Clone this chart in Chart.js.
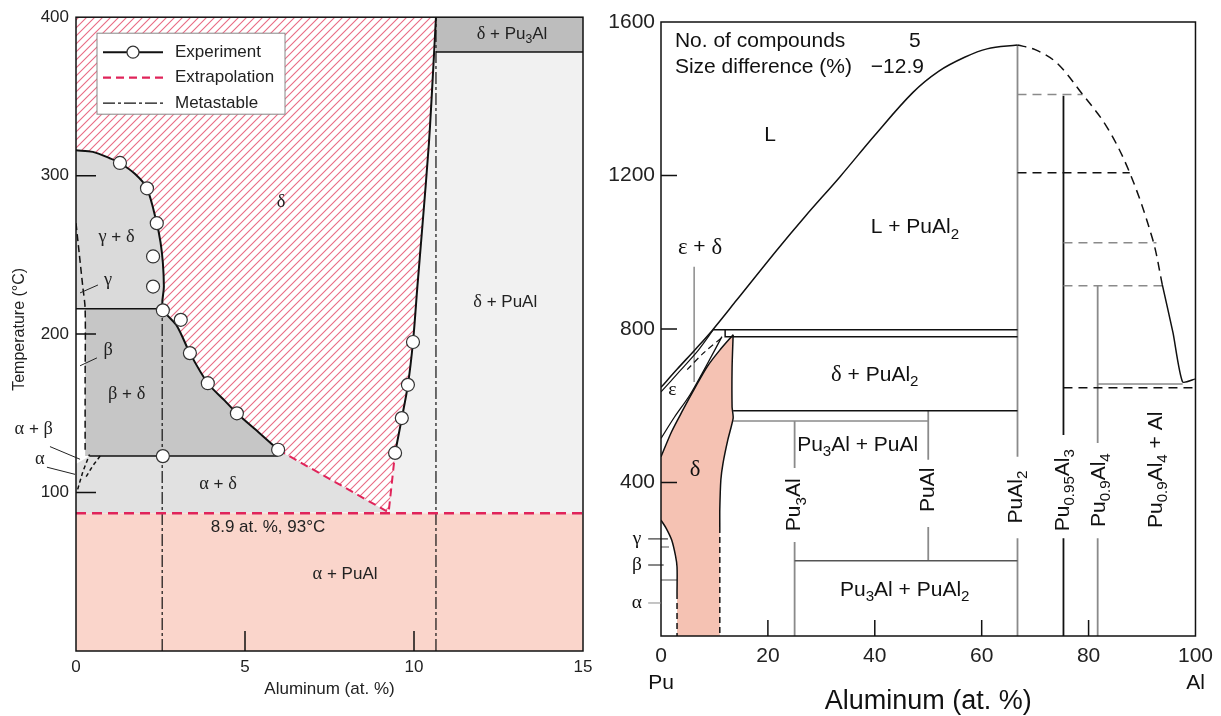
<!DOCTYPE html>
<html>
<head>
<meta charset="utf-8">
<script src="https://cdn.jsdelivr.net/npm/chart.js@4.4.1/dist/chart.umd.min.js"></script>
<style>
  html, body { margin: 0; padding: 0; background: #fff; }
  #wrap { position: relative; width: 1221px; height: 716px; overflow: hidden; }
  #lowAl { position: absolute; left: 0; top: 0; }
  #fullRange { position: absolute; left: 600px; top: 0; }
</style>
</head>
<body>
<div id="wrap">
  <canvas id="lowAl" width="600" height="716"></canvas>
  <canvas id="fullRange" width="621" height="716"></canvas>
</div>
<script>
const FONT = '"Liberation Sans", Arial, sans-serif';
const GREEK_FONT = '"Liberation Serif", "Times New Roman", serif';

// ---------- left panel: Pu-rich corner, 0-15 at.% Al ----------
const lowXTicks = [0, 5, 10, 15];
const lowYTicks = [100, 200, 300, 400];
const lowXMarks = [5, 10];
const lowYMarks = [100, 200, 300];

// open circles
const lowExperiment = [[1.3, 308], [2.1, 292], [2.39, 270], [2.28, 249], [2.28, 230], [2.57, 215],
  [3.1, 209], [3.37, 188], [3.9, 169], [4.76, 150], [5.98, 127], [2.57, 123],
  [9.97, 195], [9.82, 168], [9.64, 147], [9.44, 125]];

// delta boundaries
const gammaDeltaEdge = [[0, 316], [0.5, 315], [1.0, 311], [1.3, 308], [1.75, 301], [2.1, 292], [2.39, 270],
  [2.5, 258], [2.57, 245], [2.6, 230], [2.57, 216]];
const betaDeltaEdge = [[2.57, 216], [2.99, 205], [3.37, 188], [3.9, 169], [4.4, 158], [4.76, 150], [5.4, 138], [5.98, 127]];
const deltaSolvus = [[9.44, 125], [9.64, 147], [9.82, 168], [9.97, 195], [10.1, 230], [10.24, 266], [10.44, 320],
  [10.55, 360], [10.65, 400]];
const extrapV = [[5.98, 127], [9.25, 87.5], [9.44, 125]];
const gammaBetaDash = [[0, 270], [0.1, 250], [0.2, 230], [0.27, 216], [0.27, 170], [0.27, 125]];
const alphaDash1 = [[0.05, 102], [0.2, 113], [0.4, 124]];
const alphaDash2 = [[0.3, 110], [0.5, 117], [0.75, 124]];

const betaIso = 216;      // gamma/beta line
const alphaIso = 123;     // beta/alpha line
const eutectoidT = 87;    // extrapolated, 8.9 at.% / 93 C
const pu3alIso = 378;
const metastableX = [2.55, 10.65];

// ---------- right panel: whole Pu-Al system ----------
const fullXTicks = [0, 20, 40, 60, 80, 100];
const fullYTicks = [400, 800, 1200, 1600];
const fullXMarks = [20, 40, 60, 80];
const fullYMarks = [400, 800, 1200];

const liquidusPu = [[0, 648], [3, 695], [6.5, 748], [9.5, 795], [14.2, 876], [21.7, 1006], [27, 1094], [33.5, 1197],
  [40, 1305], [47.1, 1416], [52, 1472], [56.8, 1508], [61, 1530], [66.7, 1540]];
const liquidusAlDash = [[66.7, 1540], [70, 1528], [74, 1494], [78.9, 1411], [83.4, 1327], [87.7, 1207], [92, 1033], [93.8, 915]];
const liquidusAl = [[93.8, 915], [95.8, 790], [97.6, 662], [100, 670]];
const epsSolidus = [[0, 636], [3.5, 690], [7, 745], [9.8, 798]];
const epsDash = [[4.9, 694], [8, 738], [11.6, 780]];
const epsDeltaEdge = [[0, 515], [2.5, 570], [5.4, 628], [8.5, 705], [11.4, 780]];
const deltaUpper = [[0, 467], [2, 533], [4.1, 589], [6.3, 645], [8.6, 701], [11, 745], [13.5, 785]];
const deltaRight = [[13.5, 785], [13.3, 700], [13.3, 597], [13.5, 568], [12.5, 511], [11.6, 450], [11.2, 407], [11.0, 330], [11.0, 284]];
const deltaLower = [[0, 302], [1.0, 280], [2.0, 250], [2.7, 210], [3.0, 180], [3.0, 112]];

const compoundX = [25, 50, 66.7, 75.3, 81.7];
const compoundTop = [560, 587, 1540, 1408, 913];
const gapTop = [438, 459, 467, 524, 503];
const gapBottom = [245, 284, 255, 255, 255];
const compoundBottom = [0, 196, 0, 0, 0];
const compoundDark = [false, false, false, true, false];

const pt = a => a.map(([x, y]) => ({ x, y }));
const seg = (x0, y0, x1, y1) => [{ x: x0, y: y0 }, { x: x1, y: y1 }];

function hatchPattern() {
  const c = document.createElement('canvas');
  c.width = 8; c.height = 8;
  const g = c.getContext('2d');
  g.fillStyle = '#fff';
  g.fillRect(0, 0, 8, 8);
  g.strokeStyle = 'rgba(228,80,110,0.85)';
  g.lineWidth = 1.1;
  g.beginPath();
  g.moveTo(-2, 10); g.lineTo(10, -2);
  g.moveTo(-2, 2); g.lineTo(2, -2);
  g.moveTo(6, 10); g.lineTo(10, 6);
  g.stroke();
  return g.createPattern(c, 'repeat');
}

function area(data, color, order) {
  return { data, showLine: true, fill: 'shape', backgroundColor: color, borderWidth: 0, pointRadius: 0, tension: 0, order };
}
function line(data, opt) {
  return Object.assign({ data, showLine: true, fill: false, borderColor: '#111', borderWidth: 1.5, pointRadius: 0, tension: 0, order: 5 }, opt || {});
}

// rich text: "_3" makes a subscript, greek letters get a serif face
function parts(s) {
  const out = []; let last = 0; const re = /_([0-9.]+)/g; let m;
  const push = (t, sub) => {
    t.split(/([\u0370-\u03FF]+)/).forEach(r => { if (r) out.push([r, sub, /[\u0370-\u03FF]/.test(r)]); });
  };
  while ((m = re.exec(s))) {
    if (m.index > last) push(s.slice(last, m.index), false);
    out.push([m[1], true, false]);
    last = re.lastIndex;
  }
  if (last < s.length) push(s.slice(last), false);
  return out;
}
function fontOf(size, sub, greek) {
  return greek ? (size * 1.08) + 'px ' + GREEK_FONT : (sub ? size * 0.72 : size) + 'px ' + FONT;
}
function drawRich(ctx, s, x, y, size, align, rot, color) {
  const p = parts(s);
  ctx.save();
  ctx.translate(x, y);
  if (rot) ctx.rotate(rot);
  ctx.fillStyle = color || '#222';
  ctx.textBaseline = 'middle';
  ctx.textAlign = 'left';
  const w = p.map(([t, sub, gr]) => { ctx.font = fontOf(size, sub, gr); return ctx.measureText(t).width; });
  const total = w.reduce((a, b) => a + b, 0);
  let cx = align === 'left' ? 0 : align === 'right' ? -total : -total / 2;
  p.forEach(([t, sub, gr], i) => {
    ctx.font = fontOf(size, sub, gr);
    ctx.fillText(t, cx, sub ? size * 0.32 : 0);
    cx += w[i];
  });
  ctx.restore();
}

function decor(cfg) {
  return {
    id: 'decor',
    afterDatasetsDraw(chart) {
      const { ctx, chartArea: ca, scales: { x, y } } = chart;
      ctx.save();
      // frame
      ctx.strokeStyle = '#111';
      ctx.lineWidth = 1.5;
      ctx.strokeRect(ca.left, ca.top, ca.right - ca.left, ca.bottom - ca.top);
      // inward tick marks
      ctx.beginPath();
      cfg.xMarks.forEach(v => { const px = x.getPixelForValue(v); ctx.moveTo(px, ca.bottom); ctx.lineTo(px, ca.bottom - cfg.markLen); });
      cfg.yMarks.forEach(v => { const py = y.getPixelForValue(v); ctx.moveTo(ca.left, py); ctx.lineTo(ca.left + cfg.markLen, py); });
      ctx.stroke();
      // leader lines
      (cfg.leaders || []).forEach(([x0, y0, x1, y1, col]) => {
        ctx.strokeStyle = col || '#222';
        ctx.lineWidth = 1;
        ctx.beginPath();
        ctx.moveTo(x.getPixelForValue(x0), y.getPixelForValue(y0));
        ctx.lineTo(x.getPixelForValue(x1), y.getPixelForValue(y1));
        ctx.stroke();
      });
      ctx.restore();
      if (cfg.legend) cfg.legend(ctx, ca);
      cfg.labels.forEach(([t, lx, ly, size, align, rot]) => {
        drawRich(ctx, t, x.getPixelForValue(lx), y.getPixelForValue(ly), size || cfg.size, align || 'center', rot ? -Math.PI / 2 : 0, cfg.color);
      });
    }
  };
}

function scalesFor(xmin, xmax, ymin, ymax, xTicks, yTicks, size, yWidth, xHeight, padX, padY) {
  const tickFmt = v => String(v);
  return {
    x: {
      type: 'linear', min: xmin, max: xmax,
      grid: { display: false, drawTicks: false }, border: { display: false },
      afterBuildTicks: s => { s.ticks = xTicks.map(v => ({ value: v })); },
      afterFit: s => { s.height = xHeight; },
      ticks: { padding: padX, font: { family: FONT, size }, color: '#222', maxRotation: 0, autoSkip: false, callback: tickFmt }
    },
    y: {
      type: 'linear', min: ymin, max: ymax,
      grid: { display: false, drawTicks: false }, border: { display: false },
      afterBuildTicks: s => { s.ticks = yTicks.map(v => ({ value: v })); },
      afterFit: s => { s.width = yWidth; },
      ticks: { padding: padY, font: { family: FONT, size }, color: '#222', autoSkip: false, callback: tickFmt }
    }
  };
}

// ---------- left chart ----------
const hatch = hatchPattern();
const deltaField = [[0, 400]].concat(gammaDeltaEdge, betaDeltaEdge.slice(1), [[9.25, 87.5]], deltaSolvus);

const lowDatasets = [
  area(pt([[0, 0], [15, 0], [15, eutectoidT], [0, eutectoidT]]), '#fad5cb', 30),
  area(pt([[9, eutectoidT], [15, eutectoidT], [15, pu3alIso], [9, pu3alIso]]), '#f1f1f1', 29),
  area(pt([[10.65, pu3alIso], [15, pu3alIso], [15, 400], [10.65, 400]]), '#bdbdbd', 29),
  area(pt([[0, eutectoidT], [9.25, 87.5], [5.98, 127], [5.98, alphaIso], [0.4, alphaIso], [0, 118]]), '#e1e1e1', 28),
  area(pt([[0, betaIso]].concat(gammaDeltaEdge)), '#dadada', 28),
  area(pt([[0.27, alphaIso], [0.27, betaIso]].concat(betaDeltaEdge, [[5.98, alphaIso]])), '#c6c6c6', 28),
  area(pt(deltaField), hatch, 27),
  line(pt(gammaDeltaEdge.concat(betaDeltaEdge.slice(1))), { borderWidth: 2, tension: 0.3 }),
  line(pt(deltaSolvus), { borderWidth: 2, tension: 0.3 }),
  line(seg(0, betaIso, 2.57, betaIso)),
  line(seg(0.4, alphaIso, 5.98, alphaIso)),
  line(seg(10.65, pu3alIso, 15, pu3alIso)),
  line(seg(0, eutectoidT, 15, eutectoidT), { borderColor: '#e0245a', borderWidth: 2.5, borderDash: [10, 6] }),
  line(pt(extrapV), { borderColor: '#e0245a', borderWidth: 2, borderDash: [8, 5] }),
  line(seg(metastableX[0], 0, metastableX[0], betaIso), { borderWidth: 1.2, borderDash: [12, 3, 3, 3] }),
  line(seg(metastableX[1], 0, metastableX[1], 400), { borderWidth: 1.2, borderDash: [12, 3, 3, 3] }),
  line(pt(gammaBetaDash), { borderWidth: 1.5, borderDash: [7, 4], tension: 0.3 }),
  line(pt(alphaDash1), { borderWidth: 1.5, borderDash: [4, 3] }),
  line(pt(alphaDash2), { borderWidth: 1.5, borderDash: [4, 3] }),
  { data: pt(lowExperiment), showLine: false, pointRadius: 6.5, pointBackgroundColor: '#fff', pointBorderColor: '#333', pointBorderWidth: 1.2, order: 0 }
];

const lowLabels = [
  ['δ + Pu_3Al', 12.9, 389], ['δ', 6.07, 283], ['γ + δ', 1.2, 261], ['γ', 0.95, 234], ['β', 0.95, 190],
  ['β + δ', 1.5, 162], ['α + β', -1.25, 140], ['α', -1.07, 121], ['α + δ', 4.2, 105],
  ['8.9 at. %, 93°C', 5.68, 78], ['α + PuAl', 7.96, 48.5], ['δ + PuAl', 12.7, 220],
  ['Temperature (°C)', -1.66, 203, 16, 'center', true], ['Aluminum (at. %)', 7.5, -24, 17]
];
const lowLeaders = [[0.12, 226, 0.65, 231], [0.12, 180, 0.62, 185], [-0.77, 129, 0.12, 121], [-0.86, 116, -0.03, 111.5]];

function lowLegend(ctx, ca) {
  const L = ca.left + 21, T = ca.top + 16;
  ctx.save();
  ctx.fillStyle = '#fff';
  ctx.strokeStyle = '#888';
  ctx.lineWidth = 1;
  ctx.fillRect(L, T, 188, 81);
  ctx.strokeRect(L, T, 188, 81);
  const rows = [['Experiment', '#111', [], 2], ['Extrapolation', '#e0245a', [8, 5], 2.2], ['Metastable', '#111', [12, 3, 3, 3], 1.2]];
  rows.forEach(([t, c, d, w], i) => {
    const yy = T + 19 + i * 25.5;
    ctx.strokeStyle = c; ctx.lineWidth = w; ctx.setLineDash(d);
    ctx.beginPath(); ctx.moveTo(L + 6, yy); ctx.lineTo(L + 66, yy); ctx.stroke();
    ctx.setLineDash([]);
    if (i === 0) {
      ctx.fillStyle = '#fff'; ctx.strokeStyle = '#333'; ctx.lineWidth = 1.2;
      ctx.beginPath(); ctx.arc(L + 36, yy, 6, 0, Math.PI * 2); ctx.fill(); ctx.stroke();
    }
    ctx.fillStyle = '#222';
    ctx.font = '17px ' + FONT;
    ctx.textBaseline = 'middle';
    ctx.fillText(t, L + 78, yy);
  });
  ctx.restore();
}

new Chart(document.getElementById('lowAl'), {
  type: 'scatter',
  data: { datasets: lowDatasets },
  options: {
    responsive: false, animation: false,
    layout: { padding: { left: 0, top: 17, right: 17, bottom: 0 } },
    plugins: { legend: { display: false }, tooltip: { enabled: false } },
    scales: scalesFor(0, 15, 0, 400, lowXTicks, lowYTicks, 17, 76, 65, 6, 7)
  },
  plugins: [decor({ xMarks: lowXMarks, yMarks: lowYMarks, markLen: 20, labels: lowLabels, leaders: lowLeaders, size: 17, legend: lowLegend })]
});

// ---------- right chart ----------
const deltaPoly = deltaUpper.concat(deltaRight.slice(1), [[11.0, 0], [3.0, 0]], deltaLower.slice().reverse());
const GRAY = '#8a8a8a';

const fullDatasets = [
  area(pt(deltaPoly), '#f5c2b3', 30),
  line(pt(deltaUpper), { tension: 0.3 }),
  line(pt(deltaRight), { tension: 0.2 }),
  line(pt(deltaLower), { tension: 0.3 }),
  line(seg(3.0, 112, 3.0, 0), { borderDash: [6, 4] }),
  line(seg(11.0, 284, 11.0, 0), { borderDash: [6, 4] }),
  line(pt(liquidusPu), { tension: 0.35 }),
  line(pt(liquidusAlDash), { tension: 0.35, borderDash: [9, 6] }),
  line(pt(liquidusAl), { tension: 0.2 }),
  line(pt(epsSolidus), { borderWidth: 1.2, tension: 0.3 }),
  line(pt(epsDash), { borderWidth: 1.2, borderDash: [6, 4], tension: 0.3 }),
  line(pt(epsDeltaEdge), { borderWidth: 1.3, tension: 0.3 }),
  line(seg(6.2, 662, 6.2, 962), { borderColor: GRAY }),
  line(seg(9.8, 798, 66.7, 798)),
  line(pt([[12, 798], [12, 780], [66.7, 780]])),
  line(seg(13.5, 587, 66.7, 587)),
  line(seg(13.5, 560, 50, 560), { borderColor: GRAY }),
  line(seg(25, 196, 66.7, 196), { borderColor: '#555' }),
  line(seg(66.7, 1411, 78.9, 1411), { borderColor: GRAY, borderDash: [9, 6] }),
  line(seg(66.7, 1207, 87.7, 1207), { borderDash: [9, 6] }),
  line(seg(75.3, 1025, 92.7, 1025), { borderColor: GRAY, borderDash: [9, 6] }),
  line(seg(75.3, 913, 93.8, 913), { borderColor: GRAY, borderDash: [9, 6] }),
  line(seg(81.7, 657, 97.6, 657), { borderColor: GRAY }),
  line(seg(75.3, 647, 100, 647), { borderDash: [9, 6] }),
  line(seg(0, 232, 1.5, 232), { borderColor: GRAY }),
  line(seg(0, 146, 3.0, 146), { borderColor: GRAY })
];
compoundX.forEach((cx, i) => {
  const col = compoundDark[i] ? '#111' : GRAY;
  fullDatasets.push(line(seg(cx, compoundTop[i], cx, gapTop[i]), { borderColor: col, borderWidth: 1.8 }));
  fullDatasets.push(line(seg(cx, gapBottom[i], cx, compoundBottom[i]), { borderColor: col, borderWidth: 1.8 }));
});

const fullLabels = [
  ['No. of compounds', 2.6, 1549, 21, 'left'], ['5', 47.5, 1549, 21], ['Size difference (%)', 2.6, 1481, 21, 'left'],
  ['−12.9', 49.2, 1481, 21, 'right'], ['L', 20.4, 1306], ['L + PuAl_2', 47.5, 1064], ['ε + δ', 7.3, 1012],
  ['ε', 2.1, 641, 18], ['δ + PuAl_2', 40, 680], ['Pu_3Al + PuAl', 36.8, 498], ['Pu_3Al + PuAl_2', 45.6, 120],
  ['δ', 6.4, 433],
  ['Pu_3Al', 25, 342, 21, 'center', true], ['PuAl', 50, 381, 21, 'center', true], ['PuAl_2', 66.5, 362, 21, 'center', true],
  ['Pu_0.95Al_3', 75.3, 380, 21, 'center', true], ['Pu_0.9Al_4', 81.9, 380, 21, 'center', true],
  ['Pu_0.9Al_4 + Al', 92.7, 433, 21, 'center', true],
  ['γ', -4.5, 253, 18], ['β', -4.5, 185, 18], ['α', -4.5, 86, 18],
  ['Pu', 0, -122, 21], ['Al', 100, -122, 21], ['Aluminum (at. %)', 50, -172, 27]
];
const fullLeaders = [[-2.4, 253, 1.3, 253, '#111'], [-2.4, 185, 0.5, 185, '#111'], [-2.4, 86, 0, 86, GRAY]];

new Chart(document.getElementById('fullRange'), {
  type: 'scatter',
  data: { datasets: fullDatasets },
  options: {
    responsive: false, animation: false,
    layout: { padding: { left: 0, top: 22, right: 25, bottom: 0 } },
    plugins: { legend: { display: false }, tooltip: { enabled: false } },
    scales: scalesFor(0, 100, 0, 1600, fullXTicks, fullYTicks, 21, 61, 80, 8, 6)
  },
  plugins: [decor({ xMarks: fullXMarks, yMarks: fullYMarks, markLen: 16, labels: fullLabels, leaders: fullLeaders, size: 21, color: '#111' })]
});
</script>
</body>
</html>
